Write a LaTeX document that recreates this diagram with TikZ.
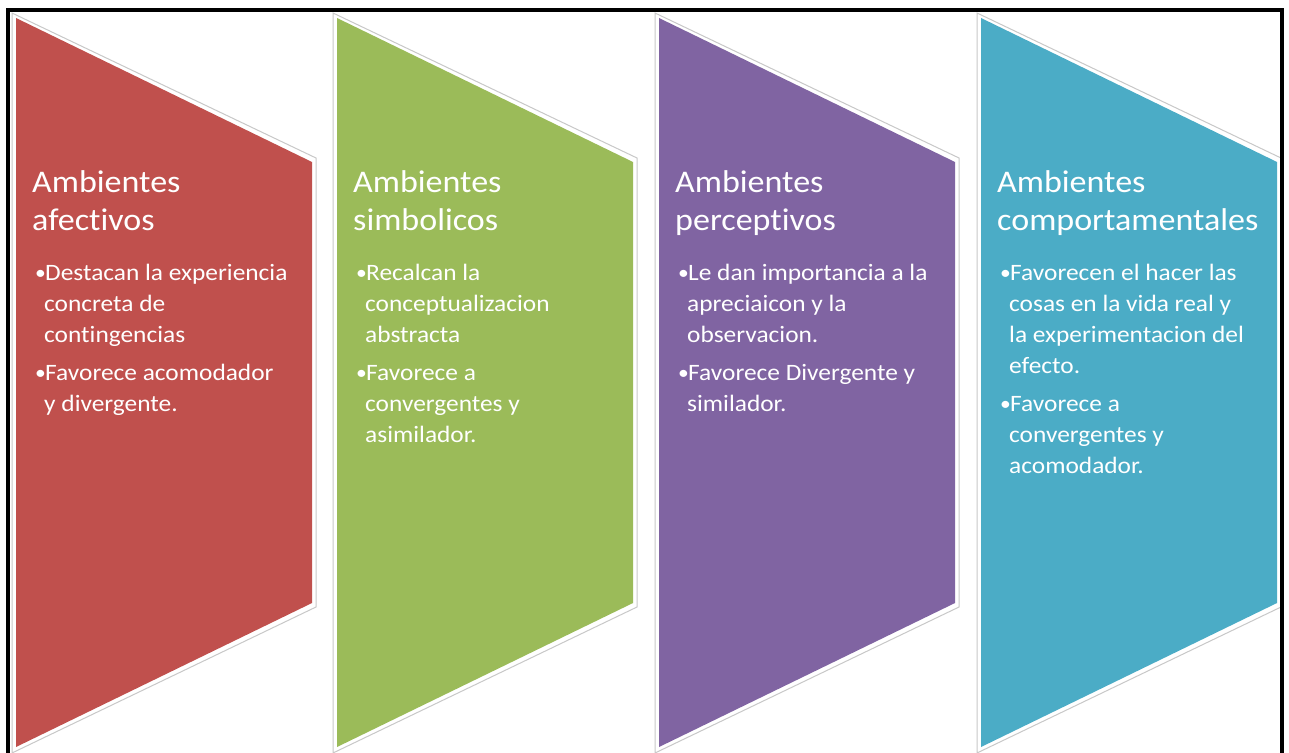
\documentclass[tikz,border=0pt]{standalone}
\usepackage{fontspec}
\setmainfont{Carlito}[FakeStretch=1.08,Ligatures={NoCommon}]
\definecolor{cred}{HTML}{C0504D}
\definecolor{cgreen}{HTML}{9BBB59}
\definecolor{cpurple}{HTML}{8064A2}
\definecolor{ccyan}{HTML}{4BACC6}
\definecolor{outl}{HTML}{C8C8C8}
\begin{document}
\begin{tikzpicture}[x=1pt,y=-1pt,
  title/.style={anchor=base west, inner sep=0pt, text=white, font=\fontsize{31.5}{38}\selectfont},
  body/.style={anchor=base west, inner sep=0pt, text=white, font=\fontsize{23.5}{31}\selectfont},
  bul/.style={anchor=base west, inner sep=0pt, text=white, font=\fontsize{20}{24}\selectfont},
  chevline/.style={draw=outl, line width=1pt, fill=white}]
\useasboundingbox (0,0) rectangle (1289,752);
\fill[white] (0,0) rectangle (1289,752);
\foreach \dx/\c in {0/cred,321/cgreen,643/cpurple,965/ccyan}{
  \begin{scope}[xshift=\dx]
    \draw[chevline] (12,13) -- (316,158) -- (316,607) -- (12,753) -- cycle;
    \fill[\c] (16,18) -- (312,162) -- (312,603) -- (16,747) -- cycle;
  \end{scope}
}
% column 1
\node[title] (a1) at (32,192) {Ambientes};
\node[title] (a2) at (32,230) {afectivos};
\node[bul] (ab1) at (35,279) {•};
\node[bul] (ab2) at (35,379) {•};
\node[body] (al1) at (45,280) {Destacan la experiencia};
\node[body] (al2) at (44,311) {concreta de};
\node[body] (al3) at (44,342) {contingencias};
\node[body] (al4) at (45,380) {Favorece acomodador};
\node[body] (al5) at (44,411) {y divergente.};
% column 2
\node[title] (b1) at (353,192) {Ambientes};
\node[title] (b2) at (353,230) {simbolicos};
\node[bul] (bb1) at (356,279) {•};
\node[bul] (bb2) at (356,379) {•};
\node[body] (bl1) at (366,280) {Recalcan la};
\node[body] (bl2) at (365,311) {conceptualizacion};
\node[body] (bl3) at (365,342) {abstracta};
\node[body] (bl4) at (366,380) {Favorece a};
\node[body] (bl5) at (365,411) {convergentes y};
\node[body] (bl6) at (365,442) {asimilador.};
% column 3
\node[title] (c1) at (675,192) {Ambientes};
\node[title] (c2) at (675,230) {perceptivos};
\node[bul] (cb1) at (678,279) {•};
\node[bul] (cb2) at (678,379) {•};
\node[body] (cl1) at (688,280) {Le dan importancia a la};
\node[body] (cl2) at (687,311) {apreciaicon y la};
\node[body] (cl3) at (687,342) {observacion.};
\node[body] (cl4) at (688,380) {Favorece Divergente y};
\node[body] (cl5) at (687,411) {similador.};
% column 4
\node[title] (d1) at (997,192) {Ambientes};
\node[title] (d2) at (997,230) {comportamentales};
\node[bul] (db1) at (1000,279) {•};
\node[bul] (db2) at (1000,410) {•};
\node[body] (dl1) at (1010,280) {Favorecen el hacer las};
\node[body] (dl2) at (1009,311) {cosas en la vida real y};
\node[body] (dl3) at (1009,342) {la experimentacion del};
\node[body] (dl4) at (1009,373) {efecto.};
\node[body] (dl5) at (1010,411) {Favorece a};
\node[body] (dl6) at (1009,442) {convergentes y};
\node[body] (dl7) at (1009,473) {acomodador.};
% frame
\draw[line width=4pt] (7.5,760) -- (7.5,10) -- (1281.5,10) -- (1281.5,760);
\end{tikzpicture}
\end{document}
